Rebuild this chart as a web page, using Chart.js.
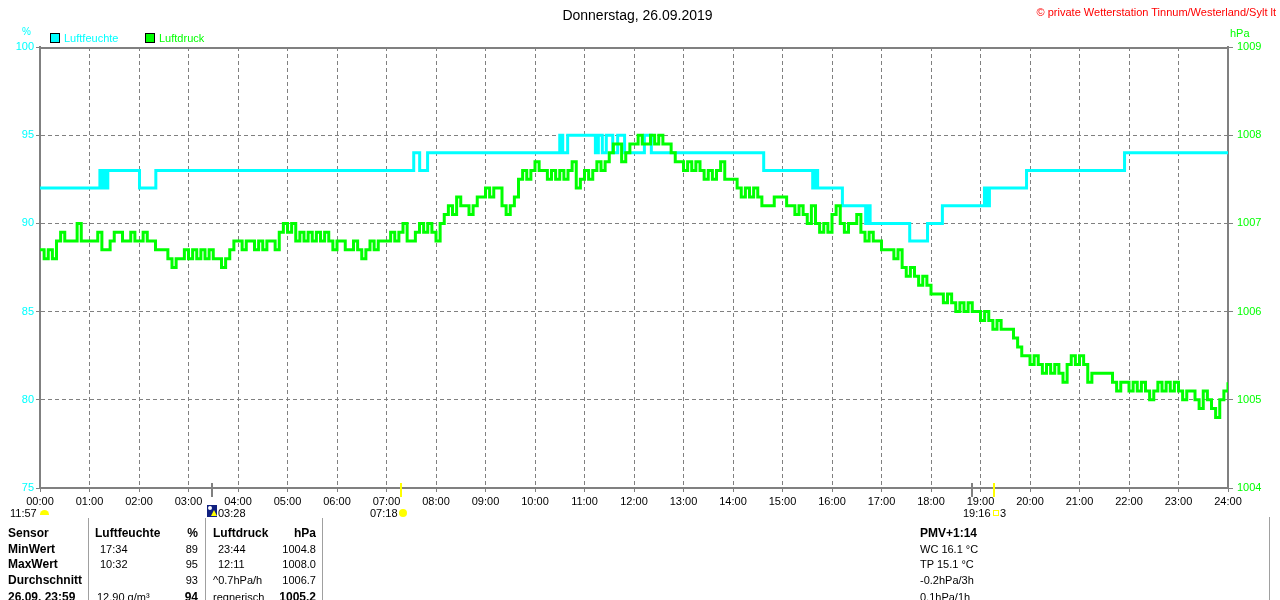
<!DOCTYPE html>
<html><head><meta charset="utf-8">
<script src="https://cdn.jsdelivr.net/npm/chart.js@4.4.0/dist/chart.umd.min.js"></script>
<style>
html,body{margin:0;padding:0;background:#fff;}
#wrap{position:relative;width:1280px;height:600px;overflow:hidden;font-family:'Liberation Sans',Arial,sans-serif;}
canvas{position:absolute;left:0;top:0;}
.t{position:absolute;white-space:nowrap;font-size:11px;line-height:14px;color:#000;}
.b{font-weight:bold;font-size:12px;}
.vl{position:absolute;width:1px;background:#a0a0a0;}
</style></head>
<body><div id="wrap">
<canvas id="c" width="1280" height="600"></canvas>

<div class="t" style="left:537px;width:201px;text-align:center;top:7px;font-size:14px;line-height:16px;">Donnerstag, 26.09.2019</div>
<div class="t" style="right:4px;top:5px;color:#ff0000;">© private Wetterstation Tinnum/Westerland/Sylt lt</div>

<div class="t" style="left:22px;top:25px;color:#00ffff;font-size:10px;">%</div>
<div class="t" style="left:1230px;top:26px;color:#00ff00;">hPa</div>

<div style="position:absolute;left:50px;top:33px;width:8px;height:8px;border:1px solid #000;background:#00ffff;"></div>
<div class="t" style="left:64px;top:31px;color:#00ffff;">Luftfeuchte</div>
<div style="position:absolute;left:145px;top:33px;width:8px;height:8px;border:1px solid #000;background:#00ff00;"></div>
<div class="t" style="left:159px;top:31px;color:#00ff00;">Luftdruck</div>

<!-- astro row -->
<div class="t" style="left:10px;top:506px;">11:57</div>
<div style="position:absolute;left:40px;top:510px;width:9px;height:5px;border-radius:5px 5px 0 0;background:#ffff00;"></div>
<div style="position:absolute;left:207px;top:505px;width:10px;height:12px;background:#102080;">
  <div style="position:absolute;left:1px;top:1px;width:4px;height:4px;border-radius:2px;background:#fff;"></div>
  <div style="position:absolute;left:4px;top:5px;width:0;height:0;border-left:3px solid transparent;border-right:3px solid transparent;border-bottom:6px solid #ffff00;"></div>
</div>
<div class="t" style="left:218px;top:506px;">03:28</div>
<div class="t" style="left:370px;top:506px;">07:18</div>
<div style="position:absolute;left:399px;top:509px;width:8px;height:8px;border-radius:4px;background:#ffff00;"></div>
<div class="t" style="left:963px;top:506px;">19:16</div>
<div style="position:absolute;left:993px;top:510px;width:4px;height:4px;border:1px solid #ffff00;"></div>
<div class="t" style="left:1000px;top:506px;">3</div>

<!-- table separators -->
<div class="vl" style="left:88px;top:518px;height:82px;"></div>
<div class="vl" style="left:205px;top:518px;height:82px;"></div>
<div class="vl" style="left:322px;top:518px;height:82px;"></div>
<div class="vl" style="left:1269px;top:517px;height:83px;"></div>

<!-- table rows -->
<div class="t b" style="left:8px;top:526px;">Sensor</div>
<div class="t b" style="left:95px;top:526px;">Luftfeuchte</div>
<div class="t b" style="right:1082px;top:526px;">%</div>
<div class="t b" style="left:213px;top:526px;">Luftdruck</div>
<div class="t b" style="right:964px;top:526px;">hPa</div>
<div class="t b" style="left:920px;top:526px;">PMV+1:14</div>

<div class="t b" style="left:8px;top:542px;">MinWert</div>
<div class="t" style="left:100px;top:542px;">17:34</div>
<div class="t" style="right:1082px;top:542px;">89</div>
<div class="t" style="left:218px;top:542px;">23:44</div>
<div class="t" style="right:964px;top:542px;">1004.8</div>
<div class="t" style="left:920px;top:542px;">WC 16.1 °C</div>

<div class="t b" style="left:8px;top:557px;">MaxWert</div>
<div class="t" style="left:100px;top:557px;">10:32</div>
<div class="t" style="right:1082px;top:557px;">95</div>
<div class="t" style="left:218px;top:557px;">12:11</div>
<div class="t" style="right:964px;top:557px;">1008.0</div>
<div class="t" style="left:920px;top:557px;">TP 15.1 °C</div>

<div class="t b" style="left:8px;top:573px;">Durchschnitt</div>
<div class="t" style="right:1082px;top:573px;">93</div>
<div class="t" style="left:213px;top:573px;">^0.7hPa/h</div>
<div class="t" style="right:964px;top:573px;">1006.7</div>
<div class="t" style="left:920px;top:573px;">-0.2hPa/3h</div>

<div class="t b" style="left:8px;top:590px;">26.09. 23:59</div>
<div class="t" style="left:97px;top:590px;">12.90 g/m³</div>
<div class="t b" style="right:1082px;top:590px;">94</div>
<div class="t" style="left:213px;top:590px;">regnerisch</div>
<div class="t b" style="right:964px;top:590px;">1005.2</div>
<div class="t" style="left:920px;top:590px;">0.1hPa/1h</div>
</div>

<script>
// ---- data ----
const humTimes = [0, 1.21, 1.25, 1.29, 1.33, 1.37, 2.01, 2.34, 7.55, 7.67, 7.83, 10.5, 10.56, 10.66, 11.22, 11.28, 11.36, 11.44, 11.57, 11.67, 11.81, 12.21, 12.35, 14.62, 15.61, 15.66, 15.71, 16.21, 16.68, 16.72, 16.77, 17.57, 17.93, 18.23, 19.08, 19.13, 19.18, 19.93, 21.91, 24];
const humValues = [92, 93, 92, 93, 92, 93, 92, 93, 94, 93, 94, 95, 94, 95, 94, 95, 94, 95, 94, 95, 94, 95, 94, 93, 92, 93, 92, 91, 90, 91, 90, 89, 90, 91, 92, 91, 92, 93, 94, 94];

// pressure readings every 5 minutes, 00:00 .. 24:00
const pressureStepMinutes = 5;
const pressureValues = [
1006.7,1006.6,1006.7,1006.6,1006.8,1006.9,1006.8,1006.8,1006.8,1007.0,1006.8,1006.8,
1006.8,1006.8,1006.9,1006.7,1006.7,1006.8,1006.9,1006.9,1006.8,1006.8,1006.9,1006.8,
1006.8,1006.9,1006.8,1006.8,1006.7,1006.7,1006.7,1006.6,1006.5,1006.6,1006.6,1006.7,
1006.6,1006.7,1006.6,1006.7,1006.6,1006.7,1006.6,1006.6,1006.5,1006.6,1006.7,1006.8,
1006.8,1006.7,1006.8,1006.8,1006.7,1006.8,1006.7,1006.8,1006.8,1006.7,1006.9,1007.0,
1006.9,1007.0,1006.8,1006.9,1006.8,1006.9,1006.8,1006.9,1006.8,1006.9,1006.8,1006.7,
1006.8,1006.8,1006.7,1006.7,1006.8,1006.7,1006.6,1006.7,1006.8,1006.7,1006.8,1006.8,
1006.8,1006.9,1006.8,1006.9,1007.0,1006.8,1006.8,1006.9,1007.0,1006.9,1007.0,1006.9,
1006.8,1007.0,1007.1,1007.2,1007.1,1007.3,1007.2,1007.2,1007.1,1007.2,1007.3,1007.3,
1007.4,1007.3,1007.4,1007.4,1007.2,1007.1,1007.2,1007.3,1007.5,1007.6,1007.5,1007.6,
1007.7,1007.6,1007.6,1007.5,1007.6,1007.5,1007.6,1007.5,1007.6,1007.7,1007.4,1007.5,
1007.6,1007.5,1007.6,1007.7,1007.6,1007.7,1007.8,1007.9,1007.9,1007.7,1007.8,1007.9,
1007.9,1008.0,1007.9,1007.9,1008.0,1007.9,1008.0,1007.9,1007.9,1007.8,1007.7,1007.7,
1007.6,1007.7,1007.6,1007.7,1007.6,1007.5,1007.6,1007.5,1007.6,1007.7,1007.5,1007.5,
1007.5,1007.4,1007.3,1007.4,1007.3,1007.4,1007.3,1007.2,1007.2,1007.2,1007.3,1007.3,
1007.3,1007.2,1007.2,1007.1,1007.2,1007.1,1007.0,1007.2,1007.0,1006.9,1007.0,1006.9,
1007.1,1007.2,1007.0,1006.9,1007.0,1007.0,1007.1,1006.9,1006.8,1006.9,1006.8,1006.8,
1006.7,1006.7,1006.7,1006.6,1006.7,1006.5,1006.4,1006.5,1006.4,1006.3,1006.4,1006.3,
1006.2,1006.2,1006.2,1006.1,1006.2,1006.1,1006.0,1006.1,1006.0,1006.1,1006.0,1006.0,
1005.9,1006.0,1005.9,1005.8,1005.9,1005.8,1005.8,1005.8,1005.7,1005.6,1005.5,1005.5,
1005.4,1005.5,1005.4,1005.3,1005.4,1005.3,1005.4,1005.3,1005.2,1005.4,1005.5,1005.4,
1005.5,1005.4,1005.2,1005.3,1005.3,1005.3,1005.3,1005.3,1005.2,1005.1,1005.2,1005.2,
1005.1,1005.2,1005.1,1005.2,1005.1,1005.0,1005.1,1005.2,1005.1,1005.2,1005.1,1005.2,
1005.1,1005.0,1005.1,1005.1,1005.0,1004.9,1005.1,1005.0,1004.9,1004.8,1005.0,1005.1,1005.2
];

const humTicks = [75, 80, 85, 90, 95, 100];
const pressTicks = [1004, 1005, 1006, 1007, 1008, 1009];
const hourTicks = [0,1,2,3,4,5,6,7,8,9,10,11,12,13,14,15,16,17,18,19,20,21,22,23,24];

// astro markers on the time axis (hours)
const markerTimes = [3.47, 7.3, 18.83, 19.27];
const markerColors = ['#808080', '#ffff00', '#808080', '#ffff00'];

// ---- build ----
const humData = humTimes.map((t, i) => ({x: t, y: humValues[i]}));
const pressData = pressureValues.map((v, i) => ({x: i * pressureStepMinutes / 60, y: v}));

const FONT = "'Liberation Sans', Arial, sans-serif";
const GRID = '#808080';

const overlay = {
  id: 'overlay',
  afterDraw(chart) {
    const {ctx, chartArea: a, scales: {x}} = chart;
    ctx.save();
    ctx.strokeStyle = GRID; ctx.lineWidth = 2;
    ctx.beginPath(); ctx.moveTo(a.left - 1, a.top + 1); ctx.lineTo(a.right + 1, a.top + 1); ctx.stroke();
    markerTimes.forEach((t, i) => {
      const px = Math.round(x.getPixelForValue(t));
      ctx.strokeStyle = markerColors[i]; ctx.lineWidth = 2;
      ctx.beginPath(); ctx.moveTo(px, a.bottom - 5); ctx.lineTo(px, a.bottom + 9); ctx.stroke();
    });
    ctx.restore();
  }
};

new Chart(document.getElementById('c'), {
  type: 'line',
  data: {
    datasets: [
      {label: 'Luftdruck', data: pressData, yAxisID: 'y1', borderColor: '#00ff00', backgroundColor: '#00ff00',
       borderWidth: 3, pointRadius: 0, stepped: true, order: 1, borderCapStyle: 'butt', borderJoinStyle: 'miter'},
      {label: 'Luftfeuchte', data: humData, yAxisID: 'y', borderColor: '#00ffff', backgroundColor: '#00ffff',
       borderWidth: 3, pointRadius: 0, stepped: true, order: 2, borderCapStyle: 'butt', borderJoinStyle: 'miter'}
    ]
  },
  options: {
    responsive: false, animation: false, devicePixelRatio: 1,
    layout: {padding: {left: 0, right: 0, top: 47, bottom: 82}},
    plugins: {legend: {display: false}, tooltip: {enabled: false}},
    scales: {
      x: {
        type: 'linear', min: 0, max: 24, position: 'bottom',
        afterBuildTicks: s => { s.ticks = hourTicks.map(v => ({value: v})); },
        afterFit: s => { s.height = 30; },
        ticks: {color: '#000', font: {family: FONT, size: 11}, padding: 3, maxRotation: 0, autoSkip: false,
                callback: v => String(v).padStart(2, '0') + ':00'},
        grid: {color: GRID, lineWidth: 1, tickLength: 4},
        border: {display: true, color: GRID, width: 2, dash: [4, 3]}
      },
      y: {
        position: 'left', min: 75, max: 100,
        afterBuildTicks: s => { s.ticks = humTicks.map(v => ({value: v})); },
        afterFit: s => { s.width = 40; },
        ticks: {color: '#00ffff', font: {family: FONT, size: 11}, padding: 2, callback: v => String(v)},
        grid: {color: GRID, lineWidth: 1, tickLength: 4},
        border: {display: true, color: GRID, width: 2, dash: [4, 3]}
      },
      y1: {
        position: 'right', min: 1004, max: 1009,
        afterBuildTicks: s => { s.ticks = pressTicks.map(v => ({value: v})); },
        afterFit: s => { s.width = 52; },
        ticks: {color: '#00ff00', font: {family: FONT, size: 11}, padding: 4, callback: v => String(v)},
        grid: {drawOnChartArea: false, color: GRID, lineWidth: 1, tickLength: 5},
        border: {display: true, color: GRID, width: 2}
      }
    }
  },
  plugins: [overlay]
});
</script>
</body></html>
